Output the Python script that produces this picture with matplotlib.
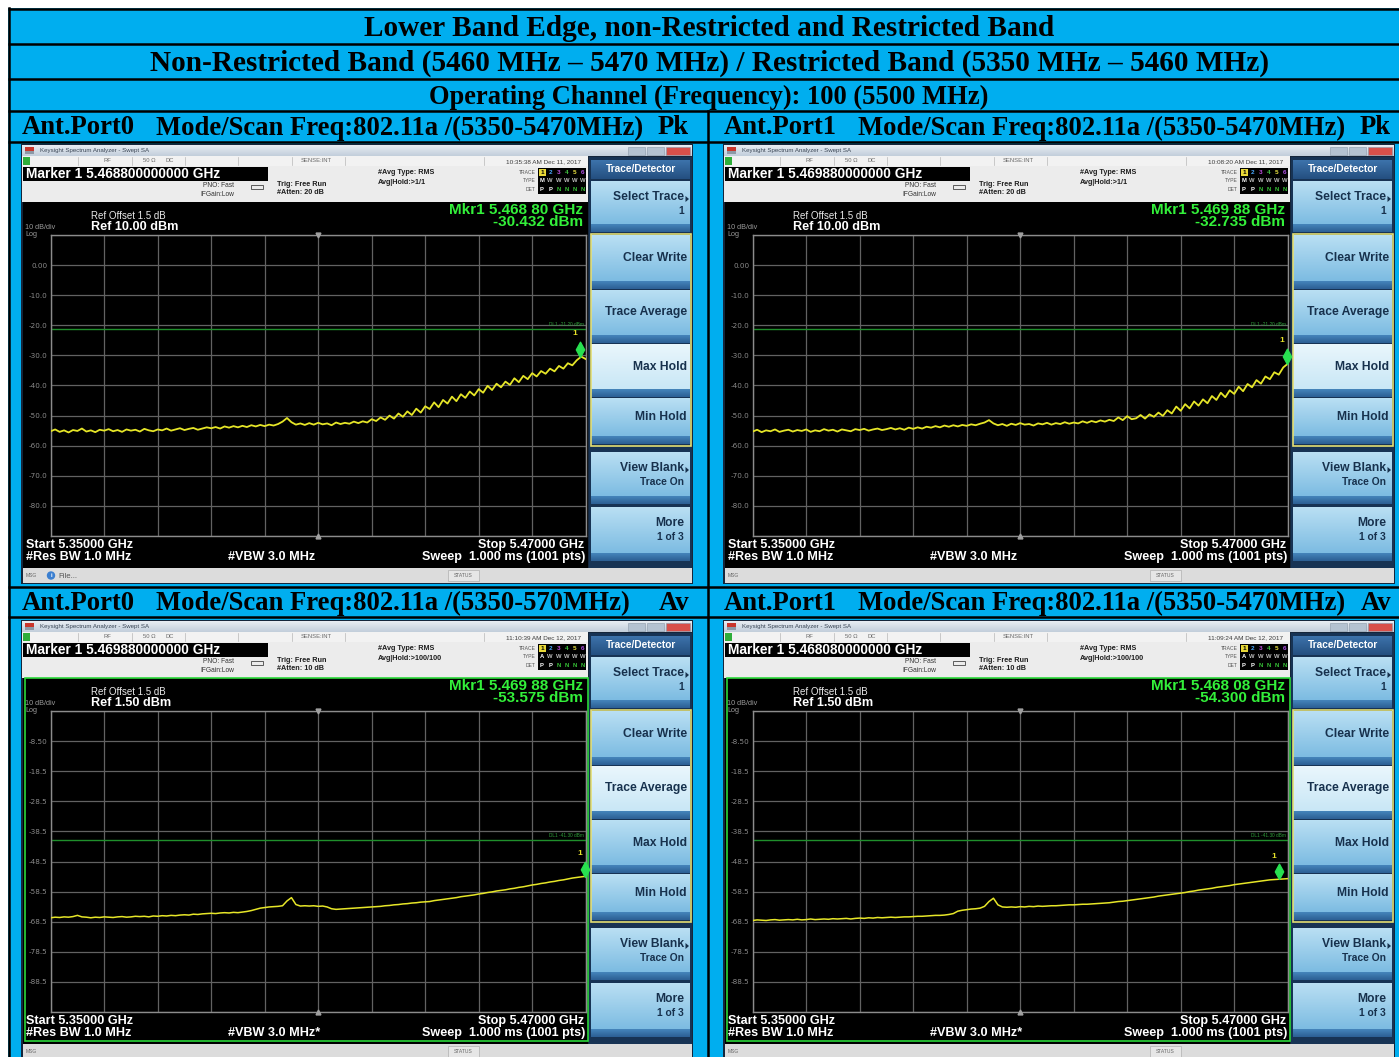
import numpy as np
import matplotlib
matplotlib.use("Agg")
import matplotlib.pyplot as plt
from matplotlib.patches import Rectangle, Polygon
from matplotlib.path import Path
from matplotlib.colors import to_rgb

# table text
title_rows = [
    "Lower Band Edge, non-Restricted and Restricted Band",
    "Non-Restricted Band (5460 MHz \u2013 5470 MHz) / Restricted Band (5350 MHz \u2013 5460 MHz)",
    "Operating Channel (Frequency): 100 (5500 MHz)",
]
ports = ["Ant.Port0", "Ant.Port1", "Ant.Port0", "Ant.Port1"]
scan_modes = ["Mode/Scan Freq:802.11a /(5350-5470MHz)", "Mode/Scan Freq:802.11a /(5350-5470MHz)",
              "Mode/Scan Freq:802.11a /(5350-570MHz)", "Mode/Scan Freq:802.11a /(5350-5470MHz)"]
detectors = ["Pk", "Pk", "Av", "Av"]

# analyzer settings for each screen
start_ghz, stop_ghz = 5.35, 5.47
ref_levels = [10.00, 10.00, 1.50, 1.50]
dl_levels = [-21.20, -21.20, -41.30, -41.30]
atten_db = [20, 20, 10, 10]
avg_hold = [">1/1", ">1/1", ">100/100", ">100/100"]
timestamps = ["10:35:38 AM Dec 11, 2017", "10:08:20 AM Dec 11, 2017",
              "11:10:39 AM Dec 12, 2017", "11:09:24 AM Dec 12, 2017"]
vbw_labels = ["#VBW 3.0 MHz", "#VBW 3.0 MHz", "#VBW 3.0 MHz*", "#VBW 3.0 MHz*"]
mkr_freqs = [5.46880, 5.46988, 5.46988, 5.46808]
mkr_levels = [-30.432, -32.735, -53.575, -54.300]

# traces, dBm, 1 MHz steps from 5350 to 5470 MHz
pk_port0 = [
    -55.2, -54.6, -55.4, -54.9, -55.6, -54.8, -55.1, -54.3, -55.3, -54.9,
    -55.5, -54.7, -55.0, -54.5, -55.2, -54.8, -55.4, -54.6, -55.0, -54.7,
    -55.3, -54.4, -54.9, -55.2, -54.6, -54.9, -54.3, -55.0, -54.6, -54.2,
    -54.8, -54.4, -54.1, -54.7, -54.3, -53.9,
    -54.2, -53.8, -54.3, -53.6, -54.0, -53.5, -53.9, -53.4, -53.8, -53.2, -53.6, -53.1, -53.5, -53.0, -53.3,
    -52.8, -52.0, -50.8, -52.2, -53.0, -52.6,
    -53.1, -52.5, -53.0, -52.4, -52.9, -52.6, -53.2, -52.3, -52.8, -52.4, -52.7, -52.0, -52.5, -51.9,
    -52.3, -51.2, -51.8, -50.6, -51.4, -50.0, -51.0, -49.3, -50.4, -48.6, -49.8, -47.7, -49.0, -46.9, -47.8,
    -45.6, -47.2, -44.8, -46.0, -43.7, -45.2, -42.9, -44.1, -42.0, -43.3, -41.2, -42.4, -40.1, -41.5, -39.4,
    -40.6, -38.7, -39.8, -37.6, -38.9, -36.8, -37.9, -35.9, -37.0, -35.2, -36.1, -34.4, -35.3, -33.5, -34.4,
    -32.6, -33.3, -31.6, -30.4, -31.2,
]
pk_port1 = [
    -55.3, -54.7, -55.5, -54.9, -55.2, -54.6, -55.4, -55.0, -54.7, -55.3,
    -54.8, -55.1, -54.6, -55.4, -54.9, -55.2, -54.5, -55.0, -54.7, -55.3,
    -54.6, -54.9, -55.2, -54.5, -54.8, -54.4, -55.0, -54.6, -54.3, -54.8,
    -54.5, -54.1, -54.6, -54.2, -54.7, -54.0, -54.4, -53.9, -54.3, -53.7,
    -54.0, -53.5, -53.9, -53.3, -53.7, -53.2,
    -53.6, -53.1, -53.4, -52.9, -53.2, -52.7, -52.3, -51.5, -52.6, -53.2, -52.8,
    -53.4, -52.7, -53.1, -52.5, -53.0, -52.8, -53.3, -52.6, -52.9, -52.4, -53.0, -52.5,
    -52.8, -52.2, -52.7, -52.3, -52.6, -51.9, -52.4, -51.8, -52.2, -51.6, -52.0, -51.4,
    -51.8, -50.6, -51.5, -50.2, -51.2, -50.9, -49.8, -51.0, -49.6, -50.4,
    -49.0, -50.1, -48.2, -49.3, -47.0, -48.4, -46.2, -47.6, -45.3, -46.7,
    -44.6, -45.9, -43.5, -44.8, -42.4, -43.9, -41.6, -42.8, -40.4, -41.9,
    -39.5, -40.6, -38.2, -39.4, -37.0, -37.9, -35.6, -36.4, -34.0, -32.8,
]
av_port0 = [
    -67.2, -67.0, -67.1, -66.9, -67.0, -66.8, -66.4, -66.9, -67.0, -67.2,
    -67.0, -67.1, -66.9, -67.0, -67.1, -66.9, -66.8, -67.0, -66.9, -66.7,
    -66.8, -66.7, -66.9, -66.6, -66.7, -66.5, -66.6, -66.4, -66.5, -66.3,
    -66.2, -66.3, -66.0, -66.1, -65.9, -65.8,
    -65.7, -65.8, -65.6, -65.5, -65.6, -65.4, -65.5, -65.3, -65.1, -64.8, -64.4, -64.0, -63.8, -63.6, -63.5,
    -63.4, -63.2, -61.6, -60.5, -62.8, -63.3,
    -63.2, -63.3, -63.2, -63.4, -63.3, -63.6, -64.2, -64.4, -64.3, -64.2, -64.1, -64.0, -63.9, -63.8,
    -63.7, -63.6, -63.5, -63.4, -63.2, -63.1, -62.9, -62.8, -62.6, -62.5, -62.3, -62.2, -62.0, -61.9, -61.8,
    -61.5, -61.3, -61.1, -60.9, -60.7, -60.5, -60.2, -60.0, -59.8, -59.6, -59.3, -59.1, -58.8, -58.6, -58.3,
    -58.1, -57.9, -57.6, -57.4, -57.1, -56.9, -56.6, -56.3, -56.1, -55.8, -55.6, -55.3, -55.1, -54.8, -54.6,
    -54.3, -54.0, -53.8, -53.6, -53.4,
]
av_port1 = [
    -68.1, -67.9, -68.0, -68.1, -67.9, -67.8, -68.0, -67.9, -67.8, -67.9,
    -67.7, -67.9, -67.8, -67.6, -67.8, -67.7, -67.6, -67.7, -67.5, -67.6,
    -67.5, -67.4, -67.6, -67.4, -67.3, -67.4, -67.2, -67.3, -67.1, -67.2,
    -67.1, -67.0, -67.1, -67.0,
    -66.9, -66.9, -66.8, -66.7, -66.7, -66.6, -66.5, -66.4, -66.4, -66.3, -66.1, -65.8,
    -65.0, -64.7, -64.5, -64.3, -64.2, -64.0, -63.4, -61.8, -60.7, -62.9, -63.6,
    -63.7, -63.6, -63.7, -63.5, -63.6, -63.4, -63.5, -63.3, -63.4, -63.3, -63.2, -63.2,
    -63.1, -63.0, -62.9, -62.9, -62.8, -62.7, -62.7, -62.6, -62.5, -62.4, -62.3, -62.2,
    -62.0, -61.8, -61.7, -61.5, -61.3, -61.1, -60.9, -60.7, -60.5, -60.3,
    -60.0, -59.8, -59.6, -59.4, -59.2, -59.0, -58.8, -58.5, -58.3, -58.0,
    -57.8, -57.6, -57.4, -57.1, -56.9, -56.7, -56.5, -56.2, -56.0, -55.8,
    -55.6, -55.4, -55.2, -55.0, -54.8, -54.6, -54.5, -54.4, -54.3, -54.2,
]
traces = [pk_port0, pk_port1, av_port0, av_port1]

# soft keys of the Trace/Detector menu
softkeys = [("Select Trace", "1", 181, 232, True), ("Clear Write", None, 235, 289, False),
            ("Trace Average", None, 290, 343, False), ("Max Hold", None, 344, 397, False),
            ("Min Hold", None, 398, 444, False), ("View Blank", "Trace On", 452, 504, True),
            ("More", "1 of 3", 507, 561, False)]

SANS = "Liberation Sans"
SERIF = "Liberation Serif"
CYAN = "#00aeef"
W, H = 1399, 1057

fig = plt.figure(figsize=(W / 100, H / 100), dpi=100)
bg = fig.add_axes([0, 0, 1, 1])
bg.set_xlim(0, W)
bg.set_ylim(H, 0)
bg.set_autoscale_on(False)
bg.axis("off")
renderer = fig.canvas.get_renderer()


def size_for(s, width, bold=True, family=SANS):
    # font size that gives string s the wanted pixel width
    t = fig.text(0, 0, s, fontsize=10, fontweight="bold" if bold else "normal", family=family)
    w = t.get_window_extent(renderer).width
    t.remove()
    return 10 * width / w


def txt(x, y, s, fs, color="black", ha="left", va="center", bold=False, family=SANS, z=6):
    return bg.text(x, y, s, fontsize=fs, color=color, ha=ha, va=va, family=family,
                   fontweight="bold" if bold else "normal", zorder=z)


def rect(x0, y0, x1, y1, fc="none", ec="none", lw=0.0, z=2):
    bg.add_patch(Rectangle((x0, y0), x1 - x0, y1 - y0, facecolor=fc, edgecolor=ec, linewidth=lw, zorder=z))


def vgrad(x0, x1, y0, y1, c0, c1, z=2):
    a, b = np.array(to_rgb(c0)), np.array(to_rgb(c1))
    img = a + (b - a) * np.linspace(0, 1, 32)[:, None, None]
    bg.imshow(img, extent=(x0, x1, y1, y0), aspect="auto", interpolation="bilinear", zorder=z)


fs_t = [size_for(title_rows[0], 690, family=SERIF), size_for(title_rows[1], 1118, family=SERIF),
        size_for(title_rows[2], 562, family=SERIF)]
fs_hdr = size_for(scan_modes[0], 486, family=SERIF)
fs_marker = size_for("Marker 1 5.468800000000 GHz", 196)
fs_mkr = size_for("Mkr1 5.468 80 GHz", 134)
fs_ref = size_for("Ref 10.00 dBm", 87)
fs_refoff = size_for("Ref Offset 1.5 dB", 75, bold=False)
fs_foot = size_for("Sweep  1.000 ms (1001 pts)", 163)
fs_key = size_for("Trace Average", 82)
fs_head = size_for("Trace/Detector", 70)

# table background and rules
rect(8, 8, W + 2, H + 2, fc=CYAN, z=0.5)
for y in [8.5, 43.5, 79, 110.5, 142, 586.5, 617]:
    bg.plot([7.5, W], [y, y], color="black", lw=1.8, zorder=7, solid_capstyle="butt")
bg.plot([8.5, 8.5], [7.5, H], color="black", lw=1.8, zorder=7)
bg.plot([708, 708], [110.5, H], color="black", lw=1.8, zorder=7)

for s, y, fs in zip(title_rows, [28, 63.5, 97.5], fs_t):
    txt(709, y, s, fs, ha="center", bold=True, family=SERIF)

diamond = Path([(0, 0), (-0.6, 1.1), (0, 2.2), (0.6, 1.1), (0, 0)],
               [Path.MOVETO, Path.LINETO, Path.LINETO, Path.LINETO, Path.CLOSEPOLY])


def draw_screen(k, dx, dy):
    pk = detectors[k] == "Pk"
    ref = ref_levels[k]

    # cell header
    hy = 128 if dy == 0 else 603.5
    txt(22 + dx, hy, ports[k], fs_hdr, bold=True, family=SERIF)
    txt(156 + dx, hy, scan_modes[k], fs_hdr, bold=True, family=SERIF)
    txt(689 + dx, hy, detectors[k], fs_hdr, ha="right", bold=True, family=SERIF)

    # window frame and title bar
    rect(21 + dx, 143.5 + dy, 693 + dx, 584 + dy, fc="#15263b", z=1)
    vgrad(22 + dx, 692 + dx, 145 + dy, 156 + dy, "#e8edf3", "#c2cedb")
    rect(25 + dx, 147 + dy, 34 + dx, 150.5 + dy, fc="#c9362c", z=3)
    rect(25 + dx, 150.5 + dy, 34 + dx, 154 + dy, fc="#8d99a6", z=3)
    txt(40 + dx, 150.5 + dy, "Keysight Spectrum Analyzer - Swept SA", 4.4, "#3a4656")
    for x0, x1, c in [(628, 645, "#b4c2d1"), (647, 664, "#b4c2d1"), (666, 690, "#d8504a")]:
        rect(x0 + dx, 147 + dy, x1 + dx, 154.5 + dy, fc=c, ec="#8a98a8", lw=0.4, z=3)

    # status row
    rect(22 + dx, 156 + dy, 588 + dx, 166 + dy, fc="#f2f2f2")
    rect(23 + dx, 157 + dy, 30 + dx, 165 + dy, fc="#2fae3a", z=3)
    for x in [78, 132, 185, 238, 292, 345, 484]:
        bg.plot([x + dx, x + dx], [157 + dy, 165 + dy], color="#b8b8b8", lw=0.5, zorder=3)
    txt(103 + dx, 161 + dy, "RF", 4.2, "#6a6a6a")
    txt(143 + dx, 161 + dy, "50 \u03a9", 4.2, "#6a6a6a")
    txt(165 + dx, 161 + dy, "DC", 4.2, "#6a6a6a")
    txt(332 + dx, 161 + dy, "SENSE:INT", 4.2, "#6a6a6a", ha="right")
    txt(581 + dx, 161.5 + dy, timestamps[k], 4.6, "#3c3c3c", ha="right")

    # marker / setup row
    rect(22 + dx, 166 + dy, 588 + dx, 202 + dy, fc="#ececec")
    rect(23 + dx, 167 + dy, 268 + dx, 180.5 + dy, fc="black", z=3)
    txt(26 + dx, 174 + dy, "Marker 1 %.12f GHz" % mkr_freqs[k], fs_marker, "white", bold=True)
    txt(203 + dx, 185.5 + dy, "PNO: Fast", 4.8, "#333333")
    txt(200 + dx, 194 + dy, "IFGain:Low", 4.8, "#333333")
    rect(251 + dx, 185 + dy, 263 + dx, 189 + dy, ec="#444444", lw=0.6, z=3)
    txt(277 + dx, 184 + dy, "Trig: Free Run", 5.2, "#1e1e1e", bold=True)
    txt(277 + dx, 193 + dy, "#Atten: %d dB" % atten_db[k], 5.2, "#1e1e1e", bold=True)
    txt(378 + dx, 173 + dy, "#Avg Type: RMS", 5.2, "#1e1e1e", bold=True)
    txt(378 + dx, 182 + dy, "Avg|Hold:" + avg_hold[k], 5.2, "#1e1e1e", bold=True)
    for s, y in [("TRACE", 172), ("TYPE", 181), ("DET", 189.5)]:
        txt(536 + dx, y + dy, s, 3.6, "#555555", ha="right")
    rect(538 + dx, 168 + dy, 586 + dx, 193.5 + dy, fc="black", z=3)
    row_cols = ["#f0e040", "#4aa8ff", "#c050e0", "#40c040", "#e8e040", "#b050e8"]
    for i in range(6):
        x = 542 + i * 8.2 + dx
        if i == 0:
            rect(x - 3, 169 + dy, x + 3.5, 175.5 + dy, fc="#e8d838", z=4)
            txt(x, 172.3 + dy, "1", 4.6, "black", ha="center", bold=True, z=7)
        else:
            txt(x, 172.3 + dy, str(i + 1), 4.6, row_cols[i], ha="center", bold=True)
        txt(x, 181 + dy, ("M" if pk else "A") if i == 0 else "W", 4.2,
            "white" if i == 0 else "#bbbbbb", ha="center", bold=True)
        txt(x, 189.5 + dy, "P" if i < 2 else "N", 4.2,
            "white" if i < 2 else "#38c838", ha="center", bold=True)

    # display area
    rect(23 + dx, 202 + dy, 588 + dx, 568 + dy, fc="black")
    if not pk:
        rect(24.5 + dx, 201.5 + dy, 587.5 + dx, 565 + dy, ec="#2bd83a", lw=1.2, z=3)
    txt(91 + dx, 216 + dy, "Ref Offset 1.5 dB", fs_refoff, "#e8e8e8")
    txt(91 + dx, 226.5 + dy, "Ref %.2f dBm" % ref, fs_ref, "white", bold=True)
    txt(25 + dx, 227.5 + dy, "10 dB/div", 5.2, "#9a9a9a")
    txt(25 + dx, 234 + dy, "Log", 5.2, "#9a9a9a")
    f5 = "%.5f" % mkr_freqs[k]
    txt(583 + dx, 210 + dy, "Mkr1 %s %s GHz" % (f5[:5], f5[5:]), fs_mkr, "#33f03a", ha="right", bold=True)
    txt(583 + dx, 221.5 + dy, "%.3f dBm" % mkr_levels[k], fs_mkr, "#33f03a", ha="right", bold=True)
    txt(26 + dx, 545 + dy, "Start %.5f GHz" % start_ghz, fs_foot, "white", bold=True)
    txt(26 + dx, 557 + dy, "#Res BW 1.0 MHz", fs_foot, "white", bold=True)
    txt(228 + dx, 557 + dy, vbw_labels[k], fs_foot, "white", bold=True)
    txt(584 + dx, 545 + dy, "Stop %.5f GHz" % stop_ghz, fs_foot, "white", ha="right", bold=True)
    txt(585 + dx, 557 + dy, "Sweep  1.000 ms (1001 pts)", fs_foot, "white", ha="right", bold=True)

    # message bar
    rect(23 + dx, 568 + dy, 692 + dx, 583 + dy, fc="#dcdcdc")
    txt(26 + dx, 575.5 + dy, "MSG", 3.6, "#666666")
    if k == 0:
        bg.add_patch(plt.Circle((51 + dx, 575.5 + dy), 3.5, color="#3b7fd0", zorder=4))
        txt(51 + dx, 575.5 + dy, "i", 4.2, "white", ha="center", bold=True, z=7)
        txt(58 + dx, 576 + dy, "File...", 5.6, "#555555")
    rect(448 + dx, 570 + dy, 479 + dx, 581 + dy, fc="#e6e6e6", ec="#b0b0b0", lw=0.5, z=3)
    txt(463.5 + dx, 575.5 + dy, "STATUS", 3.6, "#666666", ha="center")

    # soft key panel
    rect(589 + dx, 157 + dy, 692 + dx, 568 + dy, fc="#173354")
    vgrad(591 + dx, 690 + dx, 160 + dy, 179 + dy, "#3d73ab", "#244f80", z=3)
    txt(640.5 + dx, 169.5 + dy, "Trace/Detector", fs_head, "white", ha="center", bold=True)
    active = "Max Hold" if pk else "Trace Average"
    for label, sub, y0, y1, arrow in softkeys:
        on = label == active
        vgrad(591 + dx, 690 + dx, y0 + dy, y1 - 8 + dy,
              "#e9f6fc" if on else "#b9dff3", "#c9e7f6" if on else "#7dbce2", z=3)
        vgrad(591 + dx, 690 + dx, y1 - 8 + dy, y1 + dy, "#4585bb", "#2c5f94", z=3)
        if sub is None:
            txt(687 + dx, (y0 + y1 - 8) / 2 + dy, label, fs_key, "#17314d", ha="right", bold=True)
        else:
            txt(684 + dx, y0 + 16 + dy, label, fs_key, "#17314d", ha="right", bold=True)
            txt(684 + dx, y0 + 30 + dy, sub, fs_key * 0.85, "#17314d", ha="right", bold=True)
        if arrow:
            bg.add_patch(Polygon([(685.5 + dx, y0 + 15 + dy), (685.5 + dx, y0 + 21 + dy),
                                  (689 + dx, y0 + 18 + dy)], closed=True, fc="#17314d", zorder=6))
    rect(590.5 + dx, 233.5 + dy, 690.5 + dx, 445.5 + dy, ec="#e4de72", lw=1.2, z=4)

    # trace display
    ax = fig.add_axes([(50.7 + dx) / W, 1 - (536 + dy) / H, 535 / W, 301 / H])
    ax.set_facecolor("black")
    ax.set_xlim(start_ghz, stop_ghz)
    ax.set_ylim(ref - 100, ref)
    ax.set_xticks(np.linspace(start_ghz, stop_ghz, 11))
    yt = ref - 10 * np.arange(10, -1, -1)
    ax.set_yticks(yt)
    ax.set_xticklabels([])
    labels = []
    for v in yt:
        if v == ref or v == ref - 100:
            labels.append("")
        elif abs(v) < 10:
            labels.append("%.2f" % v)
        else:
            labels.append("%.1f" % v)
    ax.set_yticklabels(labels)
    ax.tick_params(length=0, labelsize=5.2, labelcolor="#8a8a8a", pad=2.5)
    ax.grid(color="#626262", lw=0.9)
    for sp in ax.spines.values():
        sp.set_color("#8c8c8c")
        sp.set_linewidth(1.0)
    freqs = np.linspace(start_ghz, stop_ghz, len(traces[k]))
    ax.plot(freqs, traces[k], color="#e6e628", lw=1.3 if pk else 1.1, zorder=3)
    ax.axhline(dl_levels[k], color="#1f8f2c", lw=1.0, zorder=2)
    ax.text(stop_ghz - 0.0004, dl_levels[k] + 0.6, "DL1 %.2f dBm" % dl_levels[k], fontsize=3.4,
            color="#2fa03a", ha="right", va="bottom", family=SANS)
    mid = (start_ghz + stop_ghz) / 2
    ax.plot([mid], [ref], marker="v", color="#a0a0a0", ms=3.5, clip_on=False, zorder=4)
    ax.plot([mid], [ref - 100], marker="^", color="#a0a0a0", ms=3.5, clip_on=False, zorder=4)
    ax.plot([mkr_freqs[k]], [mkr_levels[k]], marker=diamond, ms=22, color="#28e050",
            clip_on=False, zorder=5)
    ax.annotate("1", (mkr_freqs[k], mkr_levels[k]), xytext=(-4, 14), textcoords="offset points",
                fontsize=6, color="#e6e22a", fontweight="bold", ha="center", va="bottom",
                family=SANS, annotation_clip=False)


for k, (dx, dy) in enumerate([(0, 0), (702, 0), (0, 476), (702, 476)]):
    draw_screen(k, dx, dy)

fig.savefig("out.png", dpi=100)
